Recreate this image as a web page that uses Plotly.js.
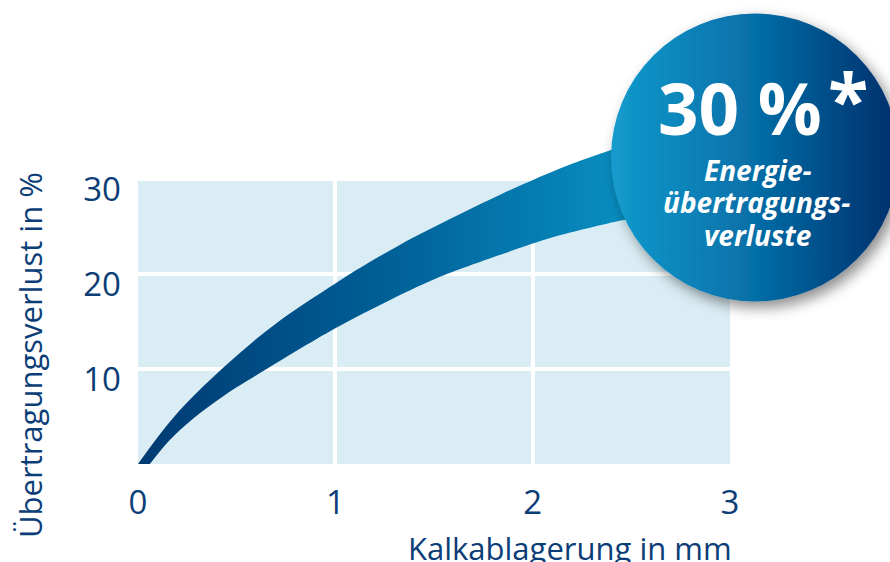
<!DOCTYPE html>
<html>
<head>
<meta charset="utf-8">
<script src="https://cdn.plot.ly/plotly-3.0.1.min.js"></script>
<style>html,body{margin:0;padding:0;background:#fff;}#chart{width:890px;height:562px;}</style>
</head>
<body>
<div id="chart"></div>
<script>
// Data
const xTicks = [0, 1, 2, 3];
const xTickLabels = ['0', '1', '2', '3'];
const yTicks = [0, 10, 20, 30];
const yTickLabels = ['', '10', '20', '30'];

// upper edge of the band (Kalkablagerung in mm, Übertragungsverlust in %)
const upperX = [0.00, 0.18, 0.43, 0.70, 1.00, 1.17, 1.40, 1.63, 1.84, 1.99, 2.20, 2.39, 2.60];
const upperY = [0.0, 4.9, 10.1, 14.8, 19.0, 21.2, 23.9, 26.3, 28.4, 29.8, 31.6, 33.0, 34.5];
// lower edge of the band
const lowerX = [0.06, 0.16, 0.28, 0.45, 0.62, 1.00, 1.28, 1.53, 1.63, 2.00, 2.09, 2.44, 2.65];
const lowerY = [0.0, 2.5, 4.8, 7.4, 9.6, 14.3, 17.3, 19.7, 20.5, 23.2, 23.8, 25.6, 26.5];

const navy = '#0b3d77';
const bandX = upperX.concat(lowerX.slice().reverse());
const bandY = upperY.concat(lowerY.slice().reverse());

const band = {
  x: bandX, y: bandY, type: 'scatter', mode: 'lines',
  fill: 'toself', line: {width: 0, color: 'rgba(0,0,0,0)', shape: 'spline', smoothing: 1},
  fillgradient: {type: 'horizontal', colorscale: [[0, '#003a72'], [0.45, '#005d95'], [1, '#0a96c8']]},
  hoverinfo: 'skip', showlegend: false
};

const svg = '<svg xmlns="http://www.w3.org/2000/svg" width="320" height="320" viewBox="0 0 320 320">' +
  '<defs><linearGradient id="g" x1="0" y1="0" x2="1" y2="0">' +
  '<stop offset="0" stop-color="#139bcd"/><stop offset="0.5" stop-color="#066ea7"/><stop offset="1" stop-color="#002e6b"/></linearGradient>' +
  '<filter id="s" x="-20%" y="-20%" width="140%" height="140%"><feDropShadow dx="5" dy="6" stdDeviation="7" flood-color="#000" flood-opacity="0.45"/></filter></defs>' +
  '<circle cx="155" cy="157.5" r="144" fill="url(#g)" filter="url(#s)"/></svg>';
const svgUri = 'data:image/svg+xml;charset=utf-8,' + encodeURIComponent(svg);

const L = 138, R = 160, T = 122, B = 98;
const W = 890 - L - R, H = 562 - T - B;
const px = v => (v - L) / W;
const py = v => (562 - B - v) / H;

const layout = {
  width: 890, height: 562,
  margin: {l: L, r: R, t: T, b: B, pad: 0},
  paper_bgcolor: '#ffffff', plot_bgcolor: 'rgba(0,0,0,0)',
  font: {family: 'Open Sans, sans-serif', color: navy},
  showlegend: false,
  xaxis: {
    range: [0, 3], tickvals: xTicks, ticktext: xTickLabels,
    showgrid: true, gridcolor: '#ffffff', gridwidth: 4, zeroline: false, showline: false,
    ticks: '', tickfont: {size: 33, color: navy}, ticklabelstandoff: 16, fixedrange: true
  },
  yaxis: {
    range: [0, 36], tickvals: yTicks, ticktext: yTickLabels,
    showgrid: true, gridcolor: '#ffffff', gridwidth: 4, zeroline: false, showline: false,
    ticks: '', tickfont: {size: 33, color: navy}, ticklabelstandoff: 16, ticklabelshift: 10, fixedrange: true
  },
  shapes: [{type: 'rect', layer: 'below', xref: 'x', yref: 'y', x0: 0, x1: 3, y0: 0, y1: 30,
            fillcolor: '#daedf4', line: {width: 0}}],
  images: [{source: svgUri, xref: 'paper', yref: 'paper', x: px(600), y: py(0),
            sizex: 320 / W, sizey: 320 / H, xanchor: 'left', yanchor: 'top', sizing: 'stretch', layer: 'above'}],
  annotations: [
    {text: 'Kalkablagerung in mm', xref: 'paper', yref: 'paper', x: px(734), y: py(548), xanchor: 'right', yanchor: 'middle',
     showarrow: false, font: {size: 31, color: navy}},
    {text: 'Übertragungsverlust in %', xref: 'paper', yref: 'paper', x: px(30), y: py(355), xanchor: 'center', yanchor: 'middle',
     textangle: -90, showarrow: false, font: {size: 31, color: navy}},
    {text: '<b>30 %</b>', xref: 'paper', yref: 'paper', x: px(739.5), y: py(108), xanchor: 'center', yanchor: 'middle',
     showarrow: false, font: {size: 71, color: '#ffffff'}},
    {text: '<b>*</b>', xref: 'paper', yref: 'paper', x: px(848), y: py(98), xanchor: 'center', yanchor: 'middle',
     showarrow: false, font: {size: 74, color: '#ffffff'}},
    {text: '<b><i>Energie-</i></b>', xref: 'paper', yref: 'paper', x: px(757.5), y: py(170), xanchor: 'center', yanchor: 'middle',
     showarrow: false, font: {size: 28, color: '#ffffff'}},
    {text: '<b><i>übertragungs-</i></b>', xref: 'paper', yref: 'paper', x: px(756), y: py(202), xanchor: 'center', yanchor: 'middle',
     showarrow: false, font: {size: 28, color: '#ffffff'}},
    {text: '<b><i>verluste</i></b>', xref: 'paper', yref: 'paper', x: px(757), y: py(235), xanchor: 'center', yanchor: 'middle',
     showarrow: false, font: {size: 28, color: '#ffffff'}}
  ]
};

Plotly.newPlot('chart', [band], layout, {staticPlot: true, displayModeBar: false});
</script>
</body>
</html>
